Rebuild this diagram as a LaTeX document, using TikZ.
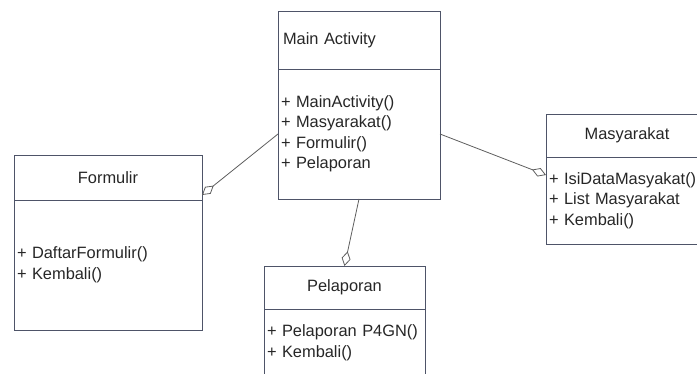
\documentclass[tikz,border=0pt]{standalone}
\usepackage{fontspec}
\setmainfont{Liberation Sans}
\usetikzlibrary{arrows.meta, positioning}
\definecolor{boxline}{HTML}{4E5468}
\definecolor{linkline}{HTML}{5E5E5E}
\definecolor{txt}{HTML}{262626}

\begin{document}
\begin{tikzpicture}[
  x=1pt, y=-1pt,
  head/.style={rectangle, draw=boxline, thick, anchor=north west, outer sep=0pt, inner xsep=3pt,
    align=center, text=txt, font=\fontsize{16.4}{20.5}\selectfont},
  body/.style={rectangle, draw=boxline, thick, outer sep=0pt, inner xsep=3pt, below=0pt of #1,
    align=left, text=txt, font=\fontsize{16.4}{20.5}\selectfont},
  aggr/.style={{Diamond[open, length=15pt, width=9pt]}-, draw=linkline, thick}
]
  \useasboundingbox (0,0) rectangle (697,374);
  \clip (0,0) rectangle (697,374);

  % Main Activity
  \node[head, align=left, inner xsep=5pt, text width=152pt, minimum height=58pt] (mainhead) at (278,11) {Main Activity};
  \node[body=mainhead, text width=156pt, minimum height=130pt] (mainbody) {+ MainActivity()\\+ Masyarakat()\\+ Formulir()\\+ Pelaporan};

  % Formulir
  \node[head, text width=182pt, minimum height=45pt] (formhead) at (14,155) {Formulir};
  \node[body=formhead, text width=182pt, minimum height=130pt] (formbody) {+ DaftarFormulir()\\+ Kembali()};

  % Masyarakat
  \node[head, text width=156pt, minimum height=43pt] (mashead) at (546,114) {Masyarakat};
  \node[body=mashead, text width=156pt, minimum height=87pt] (masbody) {+ IsiDataMasyakat()\\+ List Masyarakat\\+ Kembali()};

  % Pelaporan
  \node[head, text width=155pt, minimum height=43pt] (pelhead) at (264,266) {Pelaporan};
  \node[body=pelhead, text width=155pt, minimum height=68pt] (pelbody) {+ Pelaporan P4GN()\\+ Kembali()};

  % Aggregations
  \draw[aggr] ([yshift=5pt]formhead.south east) -- (mainbody.west);
  \draw[aggr] ([yshift=-18pt]masbody.north west) -- (mainbody.east);
  \draw[aggr] (pelhead.north) -- (mainbody.south);
\end{tikzpicture}
\end{document}
